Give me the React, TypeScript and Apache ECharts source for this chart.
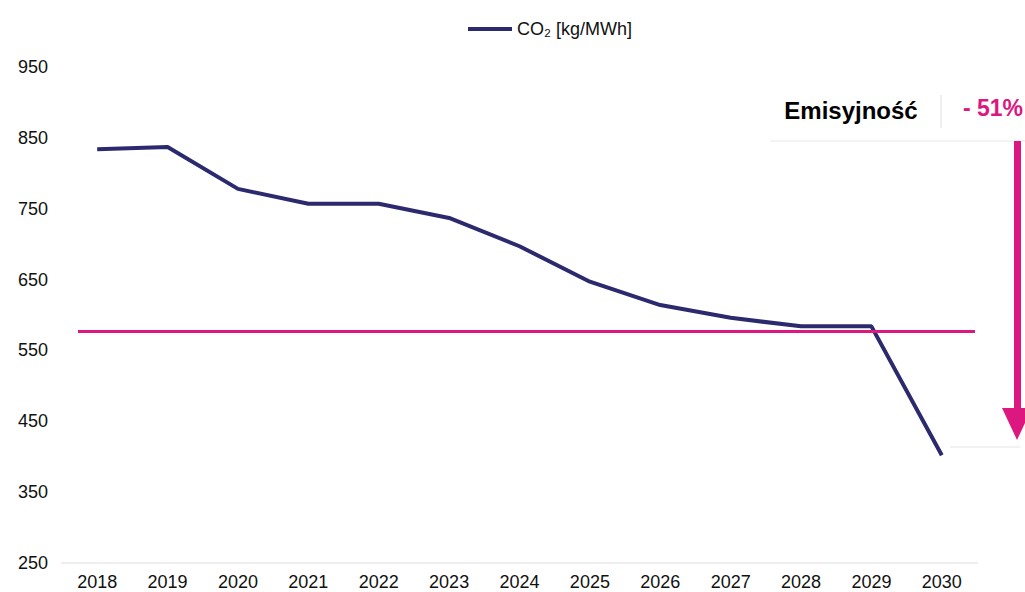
import React, { useEffect, useRef } from "react";
import * as echarts from "echarts";

const years = ["2018", "2019", "2020", "2021", "2022", "2023", "2024", "2025", "2026", "2027", "2028", "2029", "2030"];
const co2 = [834, 837, 778, 757, 757, 737, 697, 647, 614, 596, 584, 584, 402];
const targetLevel = 577;
const yTicks = { min: 250, max: 950, interval: 100 };
const seriesName = "CO₂ [kg/MWh]";
const boxLabel = "Emisyjność";
const boxValue = "- 51%";

const NAVY = "#2c2a6e";
const PINK = "#dc1780";
const FONT = "Liberation Sans, Arial, sans-serif";

export default function App() {
  const ref = useRef<HTMLDivElement>(null);
  useEffect(() => {
    if (!ref.current) return;
    const chart = echarts.init(ref.current, undefined, { renderer: "svg" });
    chart.setOption({
      animation: false,
      backgroundColor: "#ffffff",
      textStyle: { fontFamily: FONT },
      legend: {
        top: 15,
        left: 463,
        itemWidth: 44,
        itemHeight: 4,
        itemGap: 4,
        icon: "rect",
        textStyle: { fontSize: 18, color: "#111", fontFamily: FONT },
        data: [seriesName],
      },
      grid: { left: 62, right: 48, top: 67, bottom: 29, containLabel: false },
      xAxis: {
        type: "category",
        data: years,
        boundaryGap: true,
        axisLine: { show: true, lineStyle: { color: "#eeeeee", width: 2 } },
        axisTick: { show: false },
        axisLabel: { fontSize: 18, color: "#111", margin: 10, fontFamily: FONT },
      },
      yAxis: {
        type: "value",
        min: yTicks.min,
        max: yTicks.max,
        interval: yTicks.interval,
        axisLine: { show: false },
        axisTick: { show: false },
        splitLine: { show: false },
        axisLabel: { fontSize: 18, color: "#111", margin: 14, fontFamily: FONT },
      },
      series: [
        {
          name: seriesName,
          type: "line",
          data: co2,
          symbol: "none",
          lineStyle: { color: NAVY, width: 4 },
          itemStyle: { color: NAVY },
          markLine: {
            silent: true,
            symbol: "none",
            label: { show: false },
            lineStyle: { color: PINK, width: 3, type: "solid" },
            data: [[{ x: 78, yAxis: targetLevel }, { x: 975, yAxis: targetLevel }]],
          },
        },
      ],
      graphic: [
        {
          type: "line",
          shape: { x1: 770, y1: 141, x2: 1025, y2: 141 },
          style: { stroke: "#e8e8e8", lineWidth: 1 },
        },
        {
          type: "line",
          shape: { x1: 950, y1: 447, x2: 1020, y2: 447 },
          style: { stroke: "#e4e4e4", lineWidth: 1 },
        },
        {
          type: "line",
          shape: { x1: 941, y1: 95, x2: 941, y2: 128 },
          style: { stroke: "#e0e0e0", lineWidth: 1 },
        },
        {
          type: "text",
          x: 851,
          y: 110,
          style: {
            text: boxLabel,
            fontSize: 24,
            fontWeight: "bold",
            fill: "#000",
            fontFamily: FONT,
            textAlign: "center",
            textVerticalAlign: "middle",
          },
        },
        {
          type: "text",
          x: 993,
          y: 108,
          style: {
            text: boxValue,
            fontSize: 23,
            fontWeight: "bold",
            fill: PINK,
            fontFamily: FONT,
            textAlign: "center",
            textVerticalAlign: "middle",
          },
        },
        {
          type: "rect",
          shape: { x: 1014, y: 141, width: 7, height: 270 },
          style: { fill: PINK },
        },
        {
          type: "polygon",
          shape: { points: [[1002, 408], [1032, 408], [1017, 440]] },
          style: { fill: PINK },
        },
      ],
    });
    return () => chart.dispose();
  }, []);
  return <div ref={ref} style={{ width: 1025, height: 592, position: "absolute", left: 0, top: 0 }} />;
}
